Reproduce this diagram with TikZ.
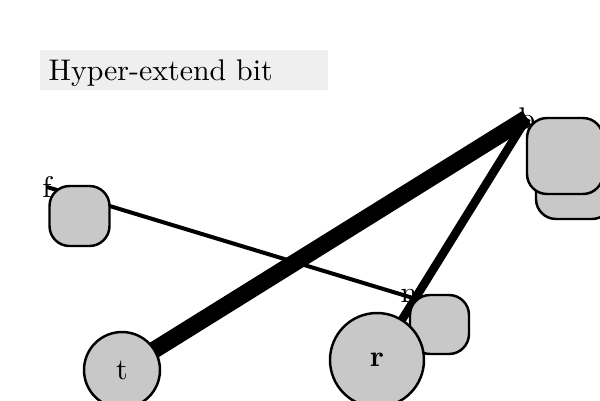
\documentclass[tikz,border=0pt]{standalone}
\usepackage{amsmath}
\definecolor{tilegray}{RGB}{200,200,200}
\definecolor{bannergray}{RGB}{239,239,239}
\tikzset{
  tile/.style={draw, line width=0.7pt, fill=tilegray, rounded corners=0.2cm, minimum size=#1, inner sep=0pt},
  ball/.style={draw, line width=0.7pt, fill=tilegray, circle, minimum size=#1, inner sep=0pt},
  tag/.style={inner sep=0pt, scale=0.85, transform shape}
}
\begin{document}
\begin{tikzpicture}
			\useasboundingbox (0, 0) rectangle (6, 4);
			\coordinate (b) at (5.27, 2.82);
			\coordinate (f) at (0.47, 2.13);
			\coordinate (n) at (4.13, 1.02);
			\coordinate (t) at (1.22, 0.30);
			\coordinate (r) at (3.77, 0.40);

			\fill[bannergray] (0.40, 3.10) rectangle (3.28, 3.50);
			\node[tag, anchor=base west] (title) at (0.48, 3.20) {Hyper-extend bit};

			\draw[line width=0.17cm] (t)--(b);
			\draw[line width=0.085cm] (b)--(r);
			\draw[line width=0.04cm] (f)--(n);

			\node[tile=0.76cm] (b2) at (5.74, 2.19) {};
			\node[tile=0.76cm] (b1) at (5.65, 2.44) {};
			\node[tile=0.60cm] (f1) at (0.795, 1.84) {};
			\node[tile=0.59cm] (n1) at (4.395, 0.755) {};
			\node[ball=0.94cm] (r1) at (r) {};
			\node[ball=0.76cm] (t1) at (t) {};

			\node[tag] (rlabel) at (r) {$\boldsymbol{\mathrm{r}}$};
			\node[tag] (tlabel) at (t) {t};
			\node[tag] (blabel) at (b) {b};
			\node[tag] (flabel) at (f) {f};
			\node[tag] (nlabel) at (4.09, 1.04) {n};
		\end{tikzpicture}
\end{document}
